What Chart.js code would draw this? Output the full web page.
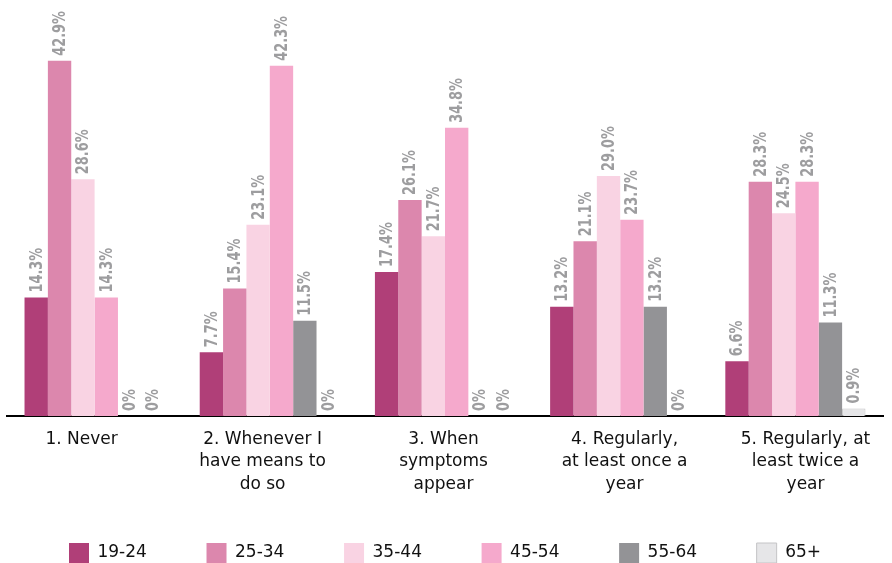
<!DOCTYPE html>
<html>
<head>
<meta charset="utf-8">
<script src="https://cdn.jsdelivr.net/npm/chart.js@4.4.0/dist/chart.umd.min.js"></script>
<style>
  html, body { margin: 0; padding: 0; background: #fff; }
  #wrap { width: 892px; height: 563px; }
</style>
</head>
<body>
<div id="wrap"><canvas id="mainChart"></canvas></div>
<script>
// answers per age group (percent)
const categories = [
    '1. Never',
    ['2. Whenever I', 'have means to', 'do so'],
    ['3. When', 'symptoms', 'appear'],
    ['4. Regularly,', 'at least once a', 'year'],
    ['5. Regularly, at', 'least twice a', 'year']
];
const ageGroups = ['19-24', '25-34', '35-44', '45-54', '55-64', '65+'];
const age19to24 = [14.3, 7.7, 17.4, 13.2, 6.6];
const age25to34 = [42.9, 15.4, 26.1, 21.1, 28.3];
const age35to44 = [28.6, 23.1, 21.7, 29.0, 24.5];
const age45to54 = [14.3, 42.3, 34.8, 23.7, 28.3];
const age55to64 = [0, 11.5, 0, 13.2, 11.3];
const age65plus = [0, 0, 0, 0, 0.9];

const seriesValues = [age19to24, age25to34, age35to44, age45to54, age55to64, age65plus];
const colors = ['#b03f78', '#dc87ad', '#f9d3e3', '#f5a9cc', '#939396', '#e6e6e8'];
const borders = ['#b03f78', '#dc87ad', '#f9d3e3', '#f5a9cc', '#939396', '#c4c4c6'];

// rotated, narrow value labels above each bar
const valueLabels = {
    id: 'valueLabels',
    afterDatasetsDraw(chart) {
        const ctx = chart.ctx;
        ctx.save();
        ctx.fillStyle = '#9d9d9f';
        ctx.font = 'bold 17px "DejaVu Sans", sans-serif';
        ctx.textAlign = 'left';
        ctx.textBaseline = 'middle';
        chart.data.datasets.forEach((ds, i) => {
            const meta = chart.getDatasetMeta(i);
            meta.data.forEach((bar, j) => {
                const v = ds.data[j];
                const txt = (v === 0 ? '0' : v.toFixed(1)) + '%';
                ctx.save();
                ctx.translate(bar.x + 1, bar.y - 5);
                ctx.rotate(-Math.PI / 2);
                ctx.scale(0.76, 1);
                ctx.fillText(txt, 0, 0);
                ctx.restore();
            });
        });
        ctx.restore();
    }
};

new Chart(document.getElementById('mainChart'), {
    type: 'bar',
    data: {
        labels: categories,
        datasets: ageGroups.map((g, i) => ({
            label: g,
            data: seriesValues[i],
            backgroundColor: colors[i],
            borderColor: borders[i],
            borderWidth: i === 5 ? 1 : 0,
            categoryPercentage: 0.8,
            barPercentage: 1.0
        }))
    },
    options: {
        responsive: true,
        maintainAspectRatio: false,
        animation: false,
        layout: { padding: { left: 7, right: 9, top: 2, bottom: 0 } },
        plugins: {
            legend: {
                position: 'bottom',
                maxHeight: 31,
                labels: {
                    boxWidth: 20,
                    boxHeight: 20,
                    padding: 11,
                    color: '#111',
                    font: { family: '"DejaVu Sans", sans-serif', size: 17 },
                    // widen the entries so the boxes sit ~138px apart
                    generateLabels(chart) {
                        const items = Chart.defaults.plugins.legend.labels.generateLabels(chart);
                        items.forEach((it, i) => {
                            if (i < items.length - 1) it.text = it.text + ' '.repeat(9);
                        });
                        return items;
                    }
                }
            },
            tooltip: { enabled: false }
        },
        scales: {
            x: {
                weight: 0,
                grid: { display: false, drawTicks: false },
                border: { display: true, color: '#000', width: 2 },
                ticks: { display: false }
            },
            // category names sit a bit wider apart than the bar groups
            xl: {
                type: 'linear',
                position: 'bottom',
                weight: 1,
                offset: false,
                bounds: 'data',
                grid: { display: false, drawTicks: false, offset: false },
                border: { display: false },
                afterDataLimits(scale) {
                    scale.min = -0.412;
                    scale.max = 4.428;
                },
                afterBuildTicks(scale) {
                    scale.ticks = categories.map((c, i) => ({ value: i }));
                },
                ticks: {
                    color: '#111',
                    padding: 12,
                    maxRotation: 0,
                    autoSkip: false,
                    font: { family: '"DejaVu Sans", sans-serif', size: 17, lineHeight: 1.32 },
                    callback: (value) => categories[value]
                },
                afterFit(scale) {
                    scale.height = 116;
                }
            },
            y: {
                display: false,
                min: 0,
                max: 50
            }
        }
    },
    plugins: [valueLabels]
});
</script>
</body>
</html>
